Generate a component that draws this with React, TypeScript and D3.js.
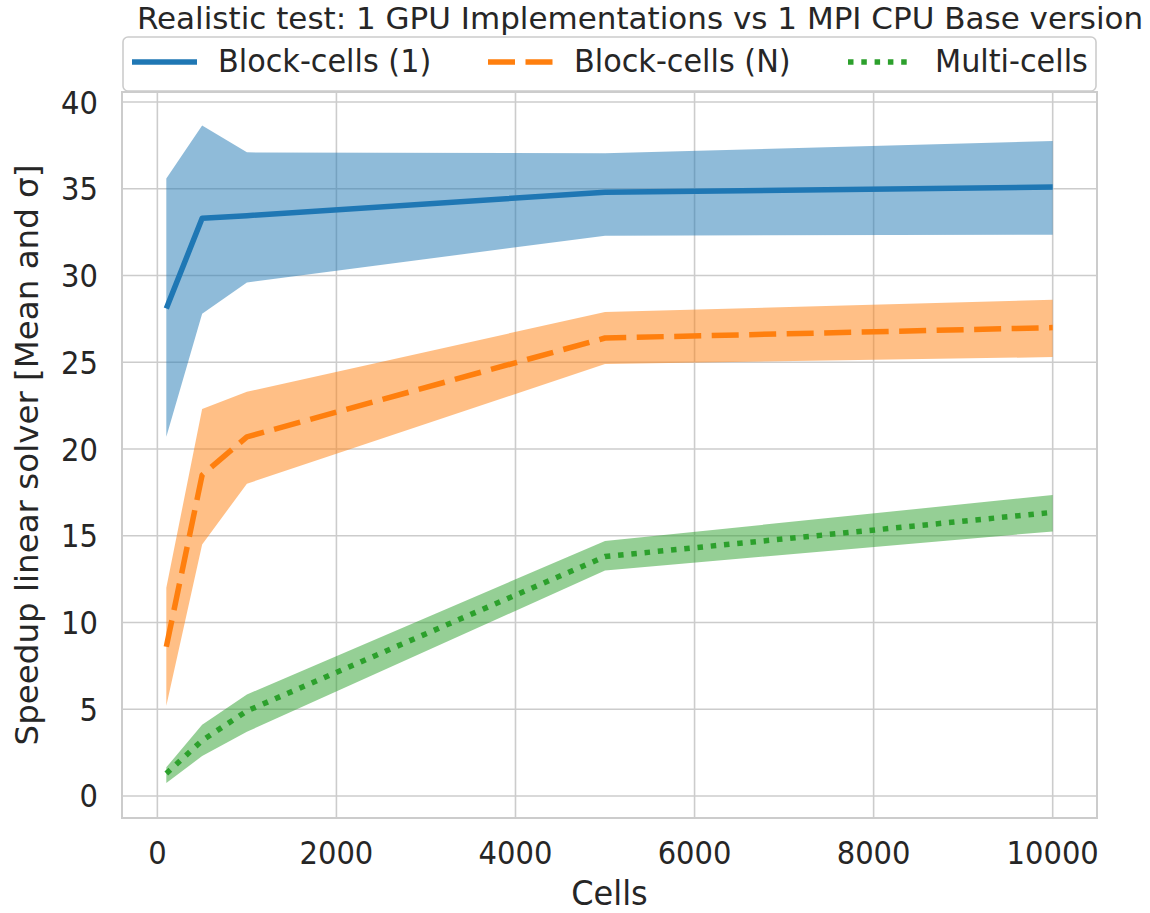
import React from 'react';
import * as d3 from 'd3';

const cells = [100, 500, 1000, 5000, 10000];

const blockOneMean = [28.1, 33.3, 33.45, 34.8, 35.1];
const blockOneLow = [20.7, 27.8, 29.6, 32.3, 32.35];
const blockOneHigh = [35.6, 38.65, 37.1, 37.05, 37.75];

const blockNMean = [8.6, 18.5, 20.7, 26.4, 27.0];
const blockNLow = [5.2, 14.5, 18.0, 24.9, 25.3];
const blockNHigh = [12.0, 22.3, 23.3, 27.9, 28.6];

const multiMean = [1.3, 3.2, 4.9, 13.8, 16.35];
const multiLow = [0.75, 2.3, 3.7, 13.0, 15.25];
const multiHigh = [1.65, 4.1, 5.85, 14.7, 17.35];

const xTicks = [0, 2000, 4000, 6000, 8000, 10000];
const yTicks = [0, 5, 10, 15, 20, 25, 30, 35, 40];

const seriesNames = ['Block-cells (1)', 'Block-cells (N)', 'Multi-cells'];

const W = 1150;
const H = 913;
const left = 122, right = 1097, top = 92, bottom = 818;
const ink = '#262626';
const gridColor = '#cccccc';
const font = 'DejaVu Sans, sans-serif';
const sy = 1.08; // text in the picture is a bit taller than wide

const series = [
    { name: seriesNames[0], mean: blockOneMean, low: blockOneLow, high: blockOneHigh, color: '#1f77b4', dash: null },
    { name: seriesNames[1], mean: blockNMean, low: blockNLow, high: blockNHigh, color: '#ff7f0e', dash: '27,10.5' },
    { name: seriesNames[2], mean: multiMean, low: multiLow, high: multiHigh, color: '#2ca02c', dash: '5.5,7.8' },
];

const Label = ({ x, y, size, anchor = 'start', stretch = sy, children }: any) => (
    <text transform={`translate(${x},${y}) scale(1,${stretch})`} textAnchor={anchor} fontSize={size} fill={ink}>{children}</text>
);

export default function App() {
    const x = d3.scaleLinear().domain([-395, 10495]).range([left, right]);
    const y = d3.scaleLinear().domain([-1.27, 40.58]).range([bottom, top]);

    const line = d3.line<number>()
        .x((_, i) => x(cells[i]))
        .y(d => y(d));

    const area = (lo: number[], hi: number[]) => d3.area<number>()
        .x((_, i) => x(cells[i]))
        .y0((_, i) => y(lo[i]))
        .y1((_, i) => y(hi[i]))(cells);

    const handleX = [132, 488, 848];
    const textX = [218, 574, 935];

    return (
        <svg width={W} height={H} style={{ position: 'absolute', left: 0, top: 0, background: '#fff' }} fontFamily={font}>
            <rect x={left} y={top} width={right - left} height={bottom - top} fill="#fff" />
            {xTicks.map(t => (
                <line key={'gx' + t} x1={x(t)} x2={x(t)} y1={top} y2={bottom} stroke={gridColor} strokeWidth={1.6} />
            ))}
            {yTicks.map(t => (
                <line key={'gy' + t} x1={left} x2={right} y1={y(t)} y2={y(t)} stroke={gridColor} strokeWidth={1.6} />
            ))}
            {series.map(s => (
                <path key={'a' + s.name} d={area(s.low, s.high) || ''} fill={s.color} fillOpacity={0.5} />
            ))}
            {series.map(s => (
                <path key={'l' + s.name} d={line(s.mean) || ''} fill="none" stroke={s.color} strokeWidth={5.5}
                    strokeDasharray={s.dash || undefined} strokeLinejoin="round" />
            ))}
            <rect x={left} y={top} width={right - left} height={bottom - top} fill="none" stroke={gridColor} strokeWidth={2} />

            {xTicks.map(t => (
                <Label key={'tx' + t} x={x(t)} y={864} size={29} anchor="middle">{t}</Label>
            ))}
            {yTicks.map(t => (
                <Label key={'ty' + t} x={98} y={y(t) + 11.5} size={29} anchor="end">{t}</Label>
            ))}

            <Label x={(left + right) / 2} y={905} size={32} anchor="middle" stretch={1.04}>Cells</Label>
            <text transform={`translate(38,${(top + bottom) / 2}) rotate(-90)`} textAnchor="middle" fontSize={32.5} fill={ink}>
                Speedup linear solver [Mean and σ]
            </text>
            <Label x={640} y={29} size={31} anchor="middle" stretch={1}>
                Realistic test: 1 GPU Implementations vs 1 MPI CPU Base version
            </Label>

            <rect x={left + 1} y={37} width={right - left - 2} height={54} rx={5} fill="#fff" fillOpacity={0.8} stroke={gridColor} strokeWidth={1.6} />
            {series.map((s, i) => (
                <g key={'lg' + s.name}>
                    <line x1={handleX[i]} x2={handleX[i] + 65} y1={62} y2={62} stroke={s.color} strokeWidth={5.5}
                        strokeDasharray={s.dash || undefined} />
                    <Label x={textX[i]} y={72} size={30.3}>{s.name}</Label>
                </g>
            ))}
        </svg>
    );
}
